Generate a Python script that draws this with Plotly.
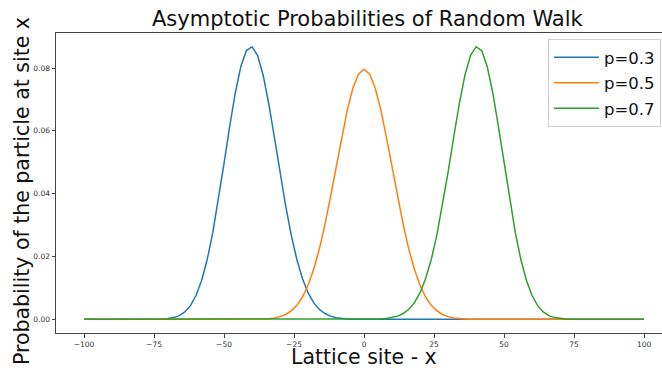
import plotly.graph_objects as go

# Lattice sites
sites = [-100, -98, -96, -94, -92, -90, -88, -86, -84, -82,
         -80, -78, -76, -74, -72, -70, -68, -66, -64, -62,
         -60, -58, -56, -54, -52, -50, -48, -46, -44, -42,
         -40, -38, -36, -34, -32, -30, -28, -26, -24, -22,
         -20, -18, -16, -14, -12, -10, -8, -6, -4, -2,
         0,
         2, 4, 6, 8, 10, 12, 14, 16, 18, 20,
         22, 24, 26, 28, 30, 32, 34, 36, 38, 40,
         42, 44, 46, 48, 50, 52, 54, 56, 58, 60,
         62, 64, 66, 68, 70, 72, 74, 76, 78, 80,
         82, 84, 86, 88, 90, 92, 94, 96, 98, 100]

prob_p03 = [0, 0, 0, 0, 0, 0, 0, 0, 0, 0,
            0, 0, 0.000013, 0.000038, 0.000101, 0.000248, 0.000564, 0.00119, 0.00236, 0.00437,
            0.00758, 0.01237, 0.01904, 0.02767, 0.03804, 0.04956, 0.06127, 0.07197, 0.08041, 0.08556,
            0.08678, 0.08398, 0.07761, 0.06854, 0.05788, 0.04678, 0.03620, 0.02683, 0.01907, 0.01299,
            0.00849, 0.00532, 0.00321, 0.00185, 0.00103, 0.000549, 0.000281, 0.000138, 0.000066, 0.000030,
            0.000013,
            0, 0, 0, 0, 0, 0, 0, 0, 0, 0,
            0, 0, 0, 0, 0, 0, 0, 0, 0, 0,
            0, 0, 0, 0, 0, 0, 0, 0, 0, 0,
            0, 0, 0, 0, 0, 0, 0, 0, 0, 0,
            0, 0, 0, 0, 0, 0, 0, 0, 0, 0]

prob_p05 = [0, 0, 0, 0, 0, 0, 0, 0, 0, 0,
            0, 0, 0, 0, 0, 0, 0, 0, 0, 0,
            0, 0, 0, 0, 0, 0, 0, 0, 0, 0.00001,
            0.000023, 0.000052, 0.000113, 0.000232, 0.000458, 0.000864, 0.00156, 0.00270, 0.00447, 0.00711,
            0.01084, 0.01587, 0.02229, 0.03006, 0.03894, 0.04846, 0.05794, 0.06657, 0.07353, 0.07803,
            0.07959,
            0.07803, 0.07353, 0.06657, 0.05794, 0.04846, 0.03894, 0.03006, 0.02229, 0.01587, 0.01084,
            0.00711, 0.00447, 0.00270, 0.00156, 0.000864, 0.000458, 0.000232, 0.000113, 0.000052, 0.000023,
            0.00001, 0, 0, 0, 0, 0, 0, 0, 0, 0,
            0, 0, 0, 0, 0, 0, 0, 0, 0, 0,
            0, 0, 0, 0, 0, 0, 0, 0, 0, 0]

prob_p07 = [0, 0, 0, 0, 0, 0, 0, 0, 0, 0,
            0, 0, 0, 0, 0, 0, 0, 0, 0, 0,
            0, 0, 0, 0, 0, 0, 0, 0, 0, 0,
            0, 0, 0, 0, 0, 0, 0, 0, 0, 0,
            0, 0, 0, 0, 0, 0, 0, 0, 0, 0,
            0.000013,
            0.000030, 0.000066, 0.000138, 0.000281, 0.000549, 0.00103, 0.00185, 0.00321, 0.00532, 0.00849,
            0.01299, 0.01907, 0.02683, 0.03620, 0.04678, 0.05788, 0.06854, 0.07761, 0.08398, 0.08678,
            0.08556, 0.08041, 0.07197, 0.06127, 0.04956, 0.03804, 0.02767, 0.01904, 0.01237, 0.00758,
            0.00437, 0.00236, 0.00119, 0.000564, 0.000248, 0.000101, 0.000038, 0.000013, 0, 0,
            0, 0, 0, 0, 0, 0, 0, 0, 0, 0]

series_names = ["p=0.3", "p=0.5", "p=0.7"]
series_colors = ["#1f77b4", "#ff7f0e", "#2ca02c"]
x_tick_vals = [-100, -75, -50, -25, 0, 25, 50, 75, 100]
x_tick_text = ["\u2212100", "\u221275", "\u221250", "\u221225", "0", "25", "50", "75", "100"]
y_tick_vals = [0.0, 0.02, 0.04, 0.06, 0.08]
y_tick_text = ["0.00", "0.02", "0.04", "0.06", "0.08"]

FONT = "DejaVu Sans"
W, H = 662, 368
L, R, T, B = 56, 0, 33, 35
pw, ph = W - L - R, H - T - B

def px_x(p):
    return (p - L) / pw

def px_y(p):
    return (H - B - p) / ph

fig = go.Figure()
for i, (name, vals) in enumerate(zip(series_names, [prob_p03, prob_p05, prob_p07])):
    fig.add_trace(go.Scatter(
        x=sites, y=vals, mode="lines", name=name,
        legendgroup=name,
        line=dict(color=series_colors[i], width=1.5),
    ))

fig.update_layout(
    width=W, height=H,
    margin=dict(l=L, r=R, t=T, b=B),
    paper_bgcolor="white", plot_bgcolor="white",
    font=dict(family=FONT, color="#222"),
    showlegend=True,
    legend=dict(
        x=px_x(548), y=px_y(39), xanchor="left", yanchor="top",
        bgcolor="rgba(255,255,255,0.85)", bordercolor="#d0d0d0", borderwidth=1,
        font=dict(family=FONT, size=16.5, color="#111"),
        traceorder="grouped", tracegroupgap=1, itemwidth=45,
    ),
    xaxis=dict(
        range=[-110, 106.4], tickvals=x_tick_vals, ticktext=x_tick_text,
        showgrid=False, zeroline=False, showline=True, linecolor="#444", linewidth=1,
        mirror=True, ticks="outside", ticklen=3.5, tickcolor="#444", tickwidth=0.8,
        tickfont=dict(family=FONT, size=7.5, color="#333"),
    ),
    yaxis=dict(
        range=[-0.00434, 0.09114], tickvals=y_tick_vals, ticktext=y_tick_text,
        showgrid=False, zeroline=False, showline=True, linecolor="#444", linewidth=1,
        mirror=False, ticks="outside", ticklen=3.5, tickcolor="#444", tickwidth=0.8,
        tickfont=dict(family=FONT, size=7.5, color="#333"),
    ),
    annotations=[
        dict(text="Asymptotic Probabilities of Random Walk", xref="paper", yref="paper",
             x=px_x(368), y=px_y(19), xanchor="center", yanchor="middle", showarrow=False,
             font=dict(family=FONT, size=21, color="#111")),
        dict(text="Lattice site - x", xref="paper", yref="paper",
             x=px_x(363.5), y=px_y(357.5), xanchor="center", yanchor="middle", showarrow=False,
             font=dict(family=FONT, size=20.5, color="#111")),
        dict(text="Probability of the particle at site x", xref="paper", yref="paper",
             x=px_x(22), y=px_y(191), xanchor="center", yanchor="middle", showarrow=False,
             textangle=-90, font=dict(family=FONT, size=20.5, color="#111")),
    ],
)

fig.write_html("out.html")
